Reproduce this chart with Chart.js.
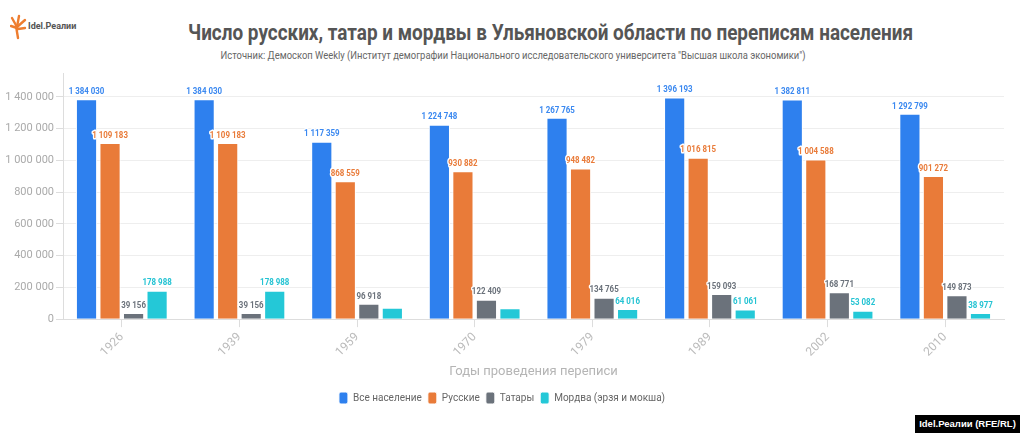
<!DOCTYPE html>
<html>
<head>
<meta charset="utf-8">
<script src="https://cdn.jsdelivr.net/npm/chart.js@4.4.0/dist/chart.umd.min.js"></script>
<style>
  body { margin: 0; width: 1024px; height: 433px; background: #fff; overflow: hidden; position: relative; font-family: Roboto, sans-serif; }
  .logo { position: absolute; left: 10px; top: 14px; }
  .logo-text { position: absolute; left: 28px; top: 21px; font: bold 9px Roboto, sans-serif; color: #555; }
  .title { position: absolute; left: 39px; width: 1024px; top: 20px; text-align: center; white-space: nowrap;
           font: bold 22px Roboto, sans-serif; color: #555; }
  .title span, .sub span { display: inline-block; }
  .title span { transform: scaleX(0.86); }
  .sub { position: absolute; left: 1px; width: 1024px; top: 49px; text-align: center; white-space: nowrap;
         font: 11px Roboto, sans-serif; color: #666; }
  .sub span { transform: scaleX(0.855); }
  .wrap { position: absolute; left: 0; top: 62px; width: 1024px; height: 356px; }
  .footer { position: absolute; left: 915px; top: 415px; width: 105px; height: 18px; background: #000; color: #fff;
            font: bold 9.5px "Liberation Sans", Arial, sans-serif; line-height: 18px; text-align: center; white-space: nowrap; }
</style>
</head>
<body>
<svg class="logo" width="18" height="26" viewBox="0 0 18 26">
  <g stroke="#ee7d2f" stroke-width="2.4" stroke-linecap="round" fill="none">
    <path d="M8 24 L6 12"/>
    <path d="M7 13 L2 4"/>
    <path d="M7 13 L9 2"/>
    <path d="M7 13 L15 6"/>
    <path d="M7 14 L1 12"/>
    <path d="M8 15 L15 14"/>
  </g>
</svg>
<div class="logo-text">Idel.Реалии</div>
<div class="title"><span>Число русских, татар и мордвы в Ульяновской области по переписям населения</span></div>
<div class="sub"><span>Источник: Демоскоп Weekly (Институт демографии Национального исследовательского университета "Высшая школа экономики")</span></div>
<div class="wrap"><canvas id="chart"></canvas></div>
<div class="footer">Idel.Реалии (RFE/RL)</div>

<script>
// данные переписей
const years = ['1926', '1939', '1959', '1970', '1979', '1989', '2002', '2010'];
const allPopulation = [1384030, 1384030, 1117359, 1224748, 1267765, 1396193, 1382811, 1292799];
const russians = [1109183, 1109183, 868559, 930882, 948482, 1016815, 1004588, 901272];
const tatars = [39156, 39156, 96918, 122409, 134765, 159093, 168771, 149873];
const mordva = [178988, 178988, 72000, 68000, 64016, 61061, 53082, 38977];
// годы, где у мордвы нет подписи
const mordvaNoLabel = ['1959', '1970'];
// деления оси Y
const yTicks = [0, 200000, 400000, 600000, 800000, 1000000, 1200000, 1400000];

function fmt(v) {
    return String(v).replace(/\B(?=(\d{3})+(?!\d))/g, ' ');
}

// подписи над столбцами
const barLabels = {
    id: 'barLabels',
    afterDatasetsDraw(chart) {
        const ctx = chart.ctx;
        chart.data.datasets.forEach((ds, i) => {
            const meta = chart.getDatasetMeta(i);
            meta.data.forEach((bar, j) => {
                if (ds.noLabel && ds.noLabel.includes(chart.data.labels[j])) return;
                const text = fmt(ds.data[j]);
                ctx.save();
                ctx.translate(bar.x, bar.y - 3);
                ctx.scale(0.88, 1);
                ctx.font = 'bold 9px Roboto, sans-serif';
                ctx.textAlign = 'center';
                ctx.textBaseline = 'bottom';
                ctx.lineWidth = 3;
                ctx.strokeStyle = '#fff';
                ctx.lineJoin = 'round';
                ctx.strokeText(text, 0, 0);
                ctx.fillStyle = ds.labelColor;
                ctx.fillText(text, 0, 0);
                ctx.restore();
            });
        });
    }
};

const ctx = document.getElementById('chart').getContext('2d');

new Chart(ctx, {
    type: 'bar',
    data: {
        labels: years,
        datasets: [
            { label: 'Все население', data: allPopulation, backgroundColor: '#2e80ee', labelColor: '#3a88f0' },
            { label: 'Русские', data: russians, backgroundColor: '#e97b39', labelColor: '#e97b39' },
            { label: 'Татары', data: tatars, backgroundColor: '#6b727b', labelColor: '#6b727b' },
            { label: 'Мордва (эрзя и мокша)', data: mordva, backgroundColor: '#24c8d7', labelColor: '#24c3d3', noLabel: mordvaNoLabel }
        ].map(ds => Object.assign(ds, {
            borderColor: '#fff',
            borderWidth: 1,
            barPercentage: 0.9,
            categoryPercentage: 0.8
        }))
    },
    options: {
        responsive: true,
        maintainAspectRatio: false,
        animation: false,
        layout: {
            padding: { top: 11, right: 20, left: 0, bottom: 4 }
        },
        plugins: {
            legend: {
                position: 'bottom',
                labels: {
                    boxWidth: 9,
                    boxHeight: 12,
                    useBorderRadius: true,
                    borderRadius: 2,
                    padding: 6,
                    color: '#666',
                    font: { family: 'Roboto', size: 10 }
                }
            },
            tooltip: { enabled: false }
        },
        scales: {
            x: {
                grid: { display: true, drawOnChartArea: false, offset: false, tickLength: 8, color: '#ddd' },
                border: { color: '#ddd' },
                ticks: {
                    minRotation: 45,
                    maxRotation: 45,
                    color: '#bbb',
                    font: { family: 'Roboto', size: 12 }
                },
                title: {
                    display: true,
                    text: 'Годы проведения переписи',
                    color: '#b5b5b5',
                    font: { family: 'Roboto', size: 13 },
                    padding: { top: 2, bottom: 6 }
                }
            },
            y: {
                min: 0,
                max: 1550000,
                afterFit: s => { s.width = 63; },
                afterBuildTicks: s => { s.ticks = yTicks.map(v => ({ value: v })); },
                grid: { color: '#eeeeee', tickLength: 7, tickColor: '#ddd' },
                border: { color: '#ddd' },
                ticks: {
                    padding: 2,
                    color: '#aaa',
                    font: { family: 'Roboto', size: 11 },
                    callback: v => fmt(v)
                }
            }
        }
    },
    plugins: [barLabels]
});
</script>
</body>
</html>
